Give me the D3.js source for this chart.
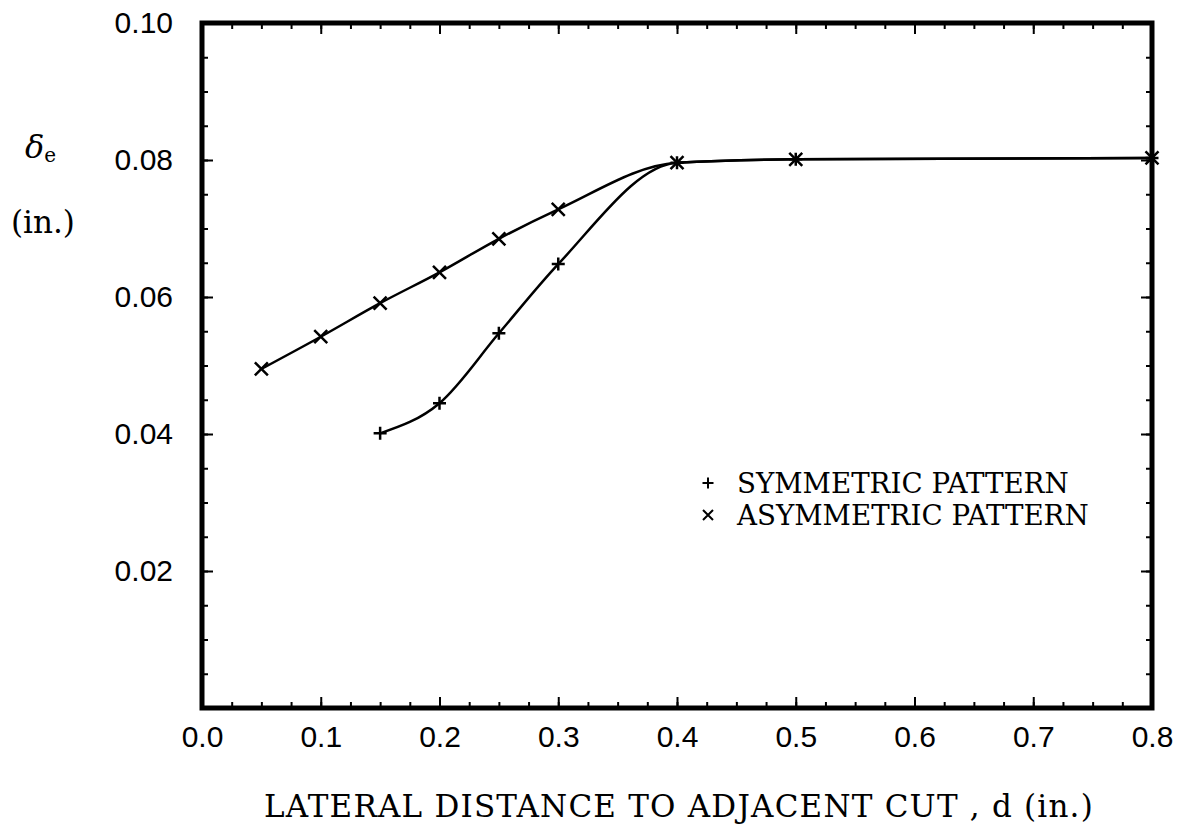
<!DOCTYPE html>
<html>
<head>
<meta charset="utf-8">
<script src="https://cdn.jsdelivr.net/npm/d3@7"></script>
<style>
  body { margin: 0; background: #fff; }
  svg { display: block; }
  .tick-label { font-family: "Liberation Sans", sans-serif; font-size: 30px; fill: #000; }
  .serif { font-family: "DejaVu Serif", serif; fill: #000; }
</style>
</head>
<body>
<svg width="1184" height="838"></svg>
<script>
// symmetric pattern (+)
const symD = [0.15, 0.2, 0.25, 0.3, 0.4, 0.5, 0.8];
const symDelta = [0.0401, 0.0445, 0.0547, 0.0648, 0.0796, 0.0801, 0.0803];
// asymmetric pattern (x)
const asymD = [0.05, 0.1, 0.15, 0.2, 0.25, 0.3, 0.4, 0.5, 0.8];
const asymDelta = [0.0495, 0.0542, 0.0591, 0.0636, 0.0685, 0.0728, 0.0796, 0.0801, 0.0803];

const xTicks = [0.0, 0.1, 0.2, 0.3, 0.4, 0.5, 0.6, 0.7, 0.8];
const yTicks = [0.02, 0.04, 0.06, 0.08, 0.10];
const xMinor = d3.range(0, 0.8001, 0.025);
const yMinor = d3.range(0, 0.1001, 0.005);

const svg = d3.select("svg");
const margin = { left: 202, right: 32, top: 23, bottom: 130 };
const width = +svg.attr("width"), height = +svg.attr("height");
const inner = {
  width: width - margin.left - margin.right,
  height: height - margin.top - margin.bottom,
};

const x = d3.scaleLinear().domain([0, 0.8]).range([0, inner.width]);
const y = d3.scaleLinear().domain([0, 0.1]).range([inner.height, 0]);

const g = svg.append("g").attr("transform", `translate(${margin.left},${margin.top})`);

// ticks pointing inward on all four sides
const styleAxis = (sel) => {
  sel.select(".domain").remove();
  sel.selectAll("line").attr("stroke", "#000").attr("stroke-width", 2);
};
const noLabel = () => "";

g.append("g").attr("transform", `translate(0,${inner.height})`)
  .call(d3.axisBottom(x).tickValues(xMinor).tickSize(-6).tickFormat(noLabel)).call(styleAxis);
g.append("g").attr("transform", `translate(0,${inner.height})`)
  .call(d3.axisBottom(x).tickValues(xTicks).tickSize(-11)
    .tickFormat(d3.format(".1f")))
  .call(styleAxis)
  .selectAll("text").attr("class", "tick-label").attr("dy", "0.71em")
  .attr("y", 18);
g.append("g")
  .call(d3.axisTop(x).tickValues(xMinor).tickSize(-6).tickFormat(noLabel)).call(styleAxis);
g.append("g")
  .call(d3.axisTop(x).tickValues(xTicks).tickSize(-11).tickFormat(noLabel)).call(styleAxis);

g.append("g")
  .call(d3.axisLeft(y).tickValues(yMinor).tickSize(-6).tickFormat(noLabel)).call(styleAxis);
g.append("g")
  .call(d3.axisLeft(y).tickValues(yTicks).tickSize(-11)
    .tickFormat(d3.format(".2f")))
  .call(styleAxis)
  .selectAll("text").attr("class", "tick-label").attr("x", -29);
g.append("g").attr("transform", `translate(${inner.width},0)`)
  .call(d3.axisRight(y).tickValues(yMinor).tickSize(-6).tickFormat(noLabel)).call(styleAxis);
g.append("g").attr("transform", `translate(${inner.width},0)`)
  .call(d3.axisRight(y).tickValues(yTicks).tickSize(-11).tickFormat(noLabel)).call(styleAxis);

// frame
g.append("rect")
  .attr("width", inner.width).attr("height", inner.height)
  .attr("fill", "none").attr("stroke", "#000").attr("stroke-width", 5);

const series = [
  { name: "SYMMETRIC PATTERN", d: symD, v: symDelta, marker: "M-6.5,0H6.5M0,-6.5V6.5" },
  { name: "ASYMMETRIC PATTERN", d: asymD, v: asymDelta, marker: "M-6.5,-6.5L6.5,6.5M-6.5,6.5L6.5,-6.5" },
];

const line = d3.line()
  .x((p) => x(p[0]))
  .y((p) => y(p[1]))
  .curve(d3.curveMonotoneX);

series.forEach((s) => {
  const pts = s.d.map((d, i) => [d, s.v[i]]);
  g.append("path")
    .attr("d", line(pts))
    .attr("fill", "none").attr("stroke", "#000").attr("stroke-width", 2.5);
  g.selectAll(null).data(pts).enter().append("path")
    .attr("transform", (p) => `translate(${x(p[0])},${y(p[1])})`)
    .attr("d", s.marker)
    .attr("stroke", "#000").attr("stroke-width", 2.5).attr("fill", "none");
});

// legend
const legend = g.append("g").attr("transform", `translate(${708 - margin.left},${483 - margin.top})`);
series.forEach((s, i) => {
  legend.append("path")
    .attr("transform", `translate(0,${i * 32})`)
    .attr("d", "M-5,0H5M0,-5V5")
    .attr("d", i === 0 ? "M-5.5,0H5.5M0,-5.5V5.5" : "M-5,-5L5,5M-5,5L5,-5")
    .attr("stroke", "#000").attr("stroke-width", 2);
  legend.append("text")
    .attr("class", "serif")
    .attr("x", 29).attr("y", i * 32 + 10)
    .attr("font-size", 27.7)
    .text(s.name);
});

// axis labels
svg.append("text")
  .attr("class", "serif")
  .attr("x", margin.left + inner.width / 2 + 2)
  .attr("y", 817)
  .attr("text-anchor", "middle")
  .attr("font-size", 31)
  .attr("letter-spacing", 1.2)
  .text("LATERAL DISTANCE TO ADJACENT CUT , d (in.)");

const yl = svg.append("text").attr("class", "serif").attr("x", 25).attr("y", 158)
  .attr("font-size", 32);
yl.append("tspan").attr("font-style", "italic").text("δ");
yl.append("tspan").attr("font-size", 20).attr("dy", 4).text("e");
svg.append("text").attr("class", "serif").attr("x", 11).attr("y", 233)
  .attr("font-size", 31).text("(in.)");
</script>
</body>
</html>
